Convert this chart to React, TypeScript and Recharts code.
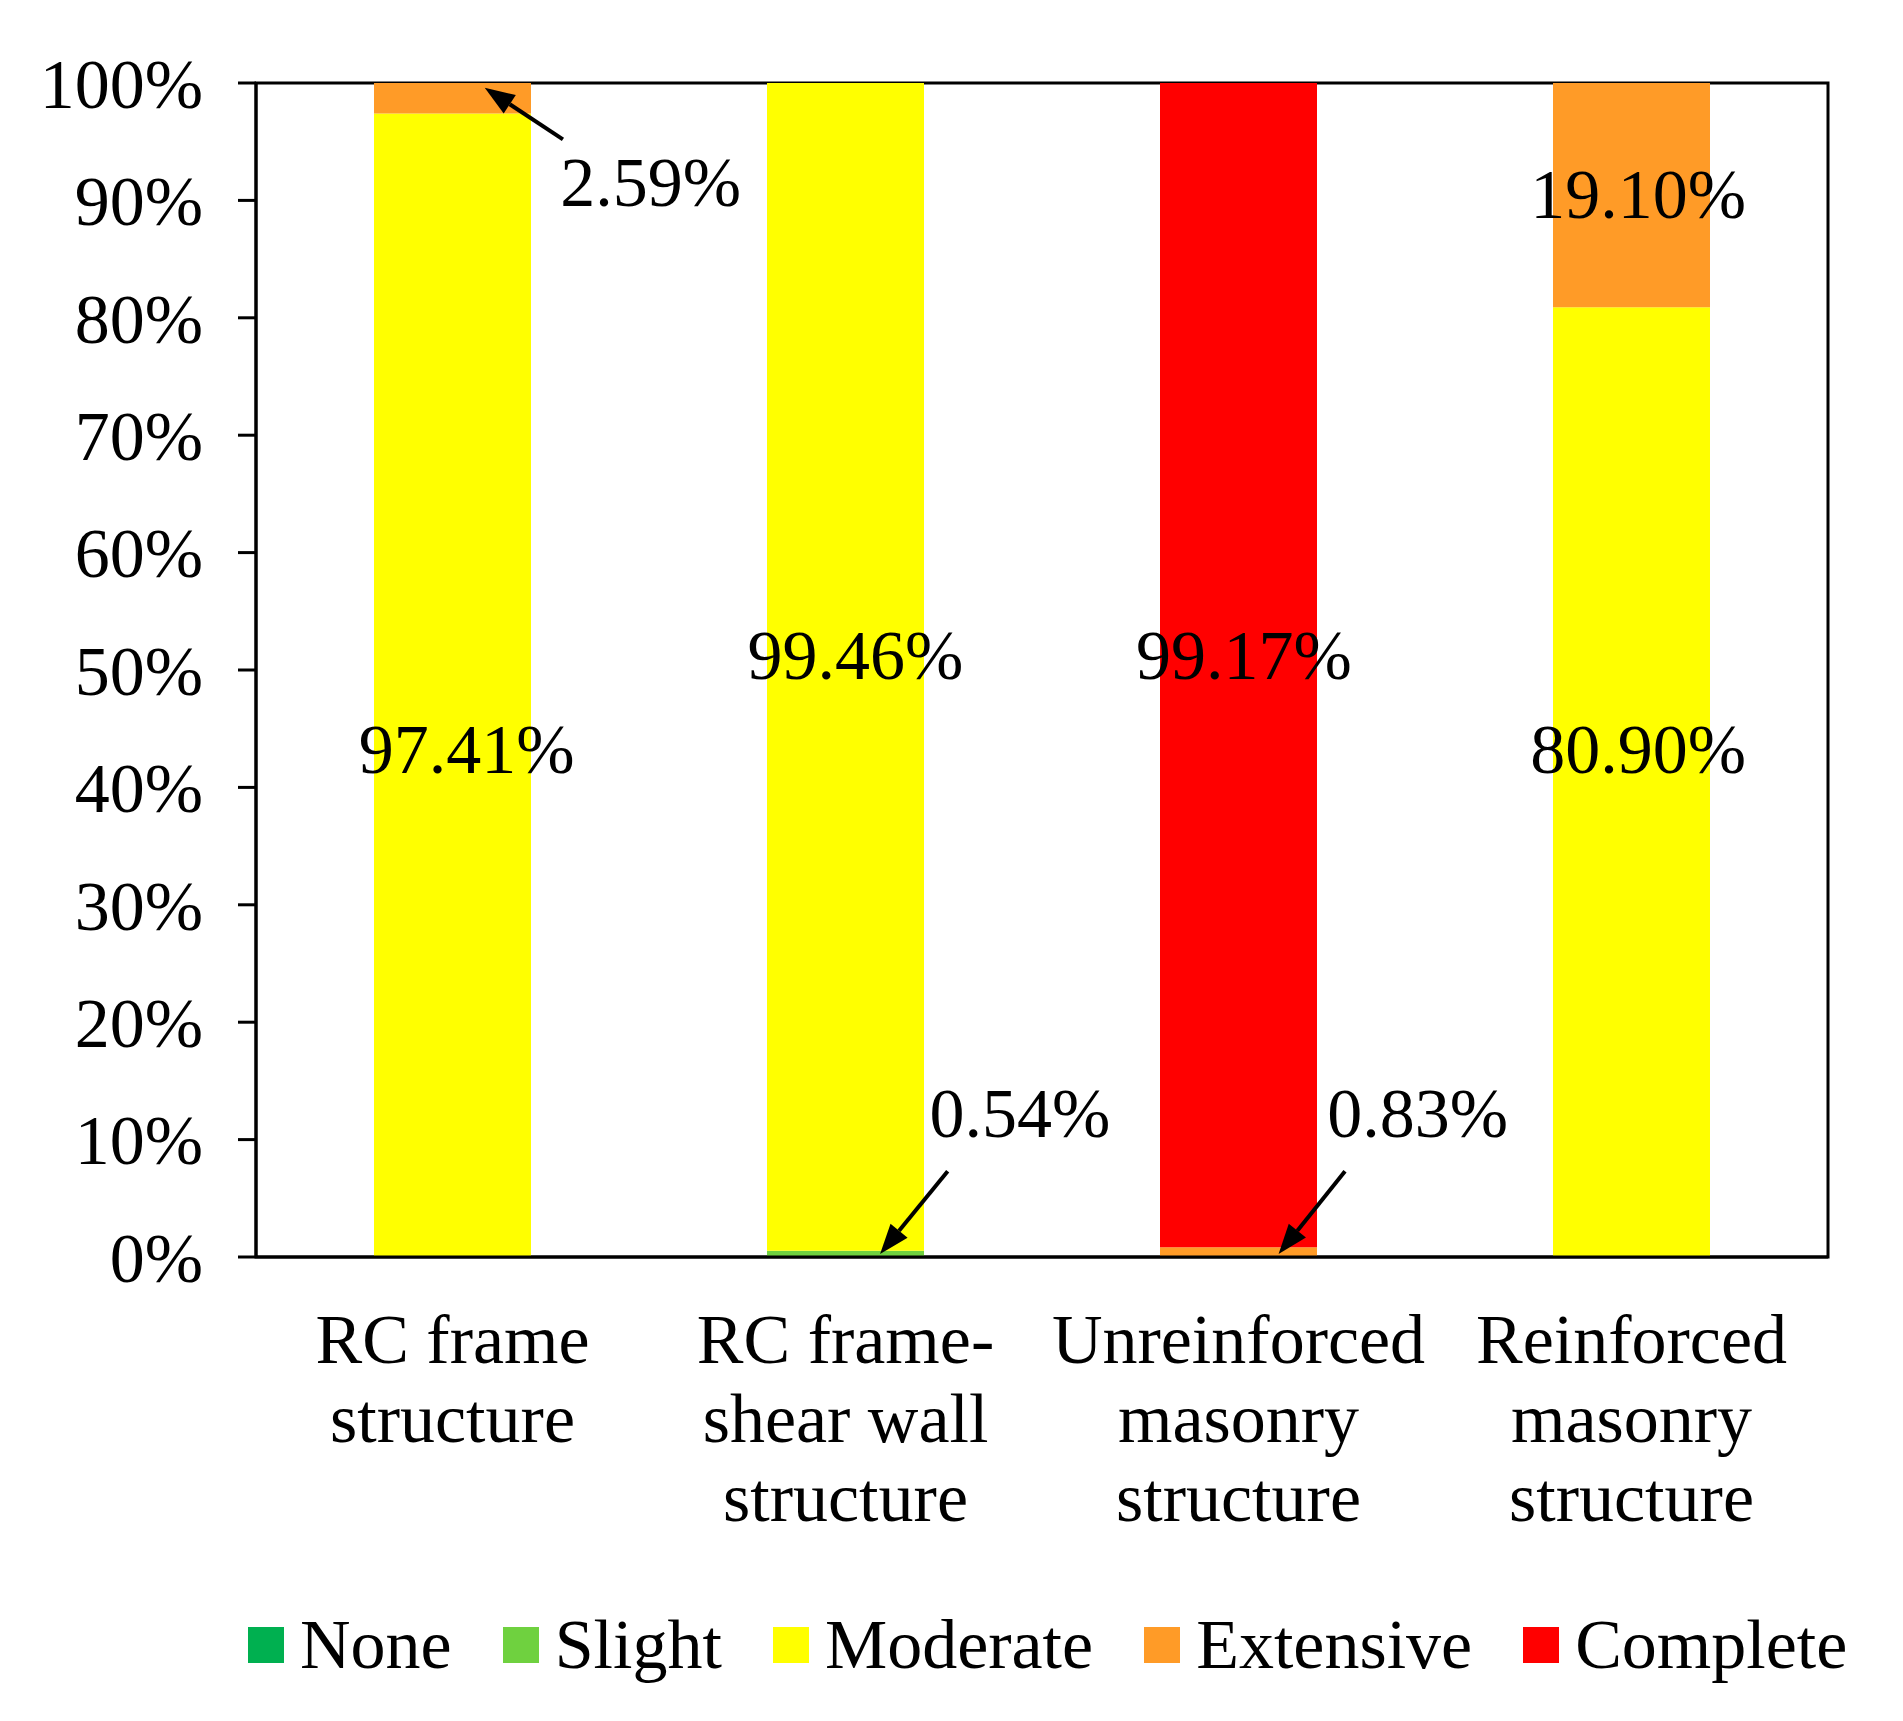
import { BarChart, Bar, XAxis, YAxis, Legend, ReferenceLine, ReferenceDot, ReferenceArea } from 'recharts';

const categories = [
  'RC frame\nstructure',
  'RC frame-\nshear wall\nstructure',
  'Unreinforced\nmasonry\nstructure',
  'Reinforced\nmasonry\nstructure',
];
// each category sits in the middle of its slot on a 0..4 axis
const categoryPos = [0.5, 1.5, 2.5, 3.5];

const noneValues = [0, 0, 0, 0];
const slightValues = [0, 0.54, 0, 0];
const moderateValues = [97.41, 99.46, 0, 80.9];
const extensiveValues = [2.59, 0, 0.83, 19.1];
const completeValues = [0, 0, 99.17, 0];

const yTicks = [0, 10, 20, 30, 40, 50, 60, 70, 80, 90, 100];

// value labels (x on the 0..4 axis, y in %)
const labelTexts = ['97.41%', '2.59%', '99.46%', '0.54%', '99.17%', '0.83%', '80.90%', '19.10%'];
const labelX = [0.536, 1.004, 1.525, 1.944, 2.514, 2.956, 3.517, 3.517];
const labelY = [42.7, 91.0, 50.7, 11.7, 50.7, 11.7, 42.7, 90.0];

// arrows: tail -> head
const arrowFromX = [0.781, 1.76, 2.771];
const arrowFromY = [95.2, 7.3, 7.3];
const arrowToX = [0.582, 1.588, 2.602];
const arrowToY = [99.6, 0.25, 0.25];

const seriesNames = ['None', 'Slight', 'Moderate', 'Extensive', 'Complete'];
const seriesColors = ['#00B050', '#6FD13F', '#FFFF00', '#FF9B27', '#FF0000'];
const seriesValues = [noneValues, slightValues, moderateValues, extensiveValues, completeValues];

const data = categories.map((name, i) => {
  const row: Record<string, number | string> = { name, pos: categoryPos[i] };
  seriesNames.forEach((s, j) => {
    row[s] = seriesValues[j][i];
  });
  return row;
});

const FONT = '"Liberation Serif", "Times New Roman", serif';

function XTick({ x, y, payload }: any) {
  const idx = categoryPos.indexOf(payload.value);
  const lines = idx >= 0 ? categories[idx].split('\n') : [];
  return (
    <g transform={`translate(${x},${y})`}>
      {lines.map((line, i) => (
        <text key={i} x={0} y={106 + i * 79} textAnchor="middle" fontSize={70} fontFamily={FONT} fill="#000">
          {line}
        </text>
      ))}
    </g>
  );
}

function Arrow(props: any) {
  const { x1, y1, x2, y2 } = props;
  const ang = Math.atan2(y2 - y1, x2 - x1);
  const len = 30;
  const half = 11;
  const bx = x2 - len * Math.cos(ang);
  const by = y2 - len * Math.sin(ang);
  const px = -Math.sin(ang) * half;
  const py = Math.cos(ang) * half;
  return (
    <g>
      <line x1={x1} y1={y1} x2={bx} y2={by} stroke="#000" strokeWidth={4} />
      <polygon points={`${x2},${y2} ${bx + px},${by + py} ${bx - px},${by - py}`} fill="#000" />
    </g>
  );
}

function LegendContent() {
  return (
    <div
      style={{
        height: 116,
        boxSizing: 'border-box',
        paddingBottom: 20,
        display: 'flex',
        alignItems: 'center',
        paddingLeft: 240,
      }}
    >
      {seriesNames.map((s, i) => (
        <div key={s} style={{ display: 'flex', alignItems: 'center', marginRight: 51 }}>
          <span style={{ width: 36, height: 36, background: seriesColors[i], display: 'inline-block', marginRight: 16 }} />
          <span style={{ fontFamily: FONT, fontSize: 70, color: '#000', lineHeight: 1 }}>{s}</span>
        </div>
      ))}
    </div>
  );
}

export default function App() {
  return (
    <BarChart
      width={1887}
      height={1705}
      data={data}
      margin={{ top: 75, right: 67, left: 0, bottom: 0 }}
      style={{ fontFamily: FONT }}
    >
      <XAxis
        dataKey="pos"
        type="number"
        domain={[0, 4]}
        allowDataOverflow
        ticks={categoryPos}
        interval={0}
        height={340}
        tickSize={0}
        tickMargin={0}
        tickLine={false}
        axisLine={{ stroke: '#000', strokeWidth: 3 }}
        tick={<XTick />}
      />
      <YAxis
        domain={[0, 100]}
        ticks={yTicks}
        width={248}
        tickSize={18}
        tickMargin={35}
        tickFormatter={(v) => `${v}%`}
        tick={{ fontSize: 70, fill: '#000', fontFamily: FONT }}
        tickLine={{ stroke: '#000', strokeWidth: 3 }}
        axisLine={{ stroke: '#000', strokeWidth: 3 }}
        interval={0}
      />
      {seriesNames.map((s, i) => (
        <Bar key={s} dataKey={s} stackId="a" fill={seriesColors[i]} barSize={157} isAnimationActive={false} />
      ))}
      <ReferenceArea
        x1={0}
        x2={4}
        y1={0}
        y2={100}
        fill="none"
        fillOpacity={0}
        stroke="#000"
        strokeWidth={3}
        ifOverflow="visible"
      />
      {labelTexts.map((t, i) => (
        <ReferenceDot
          key={t + i}
          x={labelX[i]}
          y={labelY[i]}
          r={0}
          ifOverflow="visible"
          shape={(p: any) => (
            <text x={p.cx} y={p.cy} dy="0.25em" textAnchor="middle" fontSize={70} fontFamily={FONT} fill="#000">
              {t}
            </text>
          )}
        />
      ))}
      {arrowFromX.map((fx, i) => (
        <ReferenceLine
          key={'arrow' + i}
          ifOverflow="visible"
          segment={[
            { x: fx, y: arrowFromY[i] },
            { x: arrowToX[i], y: arrowToY[i] },
          ]}
          shape={<Arrow />}
        />
      ))}
      <Legend verticalAlign="bottom" content={<LegendContent />} />
    </BarChart>
  );
}
